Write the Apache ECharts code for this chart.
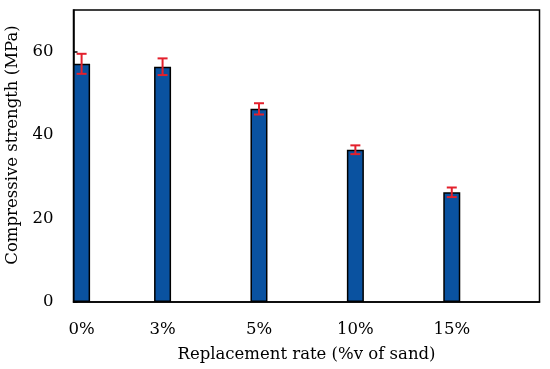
<!DOCTYPE html>
<html>
<head>
<meta charset="utf-8">
<script src="https://cdn.jsdelivr.net/npm/echarts@6/dist/echarts.min.js"></script>
<style>html,body{margin:0;padding:0;background:#fff}#c{width:550px;height:369px}</style>
</head>
<body>
<div id="c"></div>
<script>
// Data
const categories = ['0%', '3%', '5%', '10%', '15%'];
const slots = [0.16, 1, 2, 3, 4];          // category slot on the x scale
const strength = [57.1, 56.4, 46.3, 36.5, 26.3];   // MPa
const errors = [2.4, 2.0, 1.35, 1.05, 1.15];       // ± MPa
const yTicks = [0, 20, 40, 60];

const FONT = 'DejaVu Serif';
const FS = 16.5;
const chart = echarts.init(document.getElementById('c'));
const barData = slots.map((s, i) => [s, strength[i]]);
const errData = slots.map((s, i) => [s, strength[i] - errors[i], strength[i] + errors[i]]);

chart.setOption({
  animation: false,
  grid: { left: 73.5, right: 10.5, top: 10, bottom: 67, outerBoundsMode: 'none', containLabel: false,
          show: true, borderColor: '#000', borderWidth: 1.5 },
  xAxis: {
    type: 'value', min: 0.076, max: 4.91,
    splitLine: { show: false },
    axisLine: { lineStyle: { color: '#000', width: 1.5 } },
    axisTick: { show: false },
    axisLabel: {
      customValues: slots, margin: 19, color: '#000', fontFamily: FONT, fontSize: FS,
      formatter: v => { const i = slots.findIndex(s => Math.abs(s - v) < 1e-6); return i >= 0 ? categories[i] : ''; }
    },
    name: 'Replacement rate (%v of sand)', nameLocation: 'middle', nameGap: 44,
    nameTextStyle: { color: '#000', fontFamily: FONT, fontSize: FS }
  },
  yAxis: {
    type: 'value', min: 0, max: 70,
    splitLine: { show: false },
    axisLine: { show: true, lineStyle: { color: '#000', width: 1.5 } },
    axisTick: { show: true, inside: true, length: 4, customValues: yTicks, lineStyle: { color: '#000', width: 1.5 } },
    axisLabel: { customValues: yTicks, margin: 20, color: '#000', fontFamily: FONT, fontSize: FS },
    name: 'Compressive strength (MPa)', nameLocation: 'middle', nameGap: 42,
    nameTextStyle: { color: '#000', fontFamily: FONT, fontSize: FS, padding: [0, 0, 0, 22] }
  },
  series: [
    {
      type: 'bar', data: barData, barWidth: 17,
      itemStyle: { color: '#0a52a0', borderColor: '#000', borderWidth: 1.5 }
    },
    {
      type: 'custom', data: errData, z: 5,
      renderItem: (params, api) => {
        const x = api.coord([api.value(0), 0])[0];
        const lo = api.coord([api.value(0), api.value(1)])[1];
        const hi = api.coord([api.value(0), api.value(2)])[1];
        const hw = 5;
        const st = { stroke: '#e3202c', lineWidth: 2 };
        return { type: 'group', children: [
          { type: 'line', shape: { x1: x, y1: lo, x2: x, y2: hi }, style: st },
          { type: 'line', shape: { x1: x - hw, y1: hi, x2: x + hw, y2: hi }, style: st },
          { type: 'line', shape: { x1: x - hw, y1: lo, x2: x + hw, y2: lo }, style: st }
        ]};
      }
    }
  ]
});
</script>
</body>
</html>
